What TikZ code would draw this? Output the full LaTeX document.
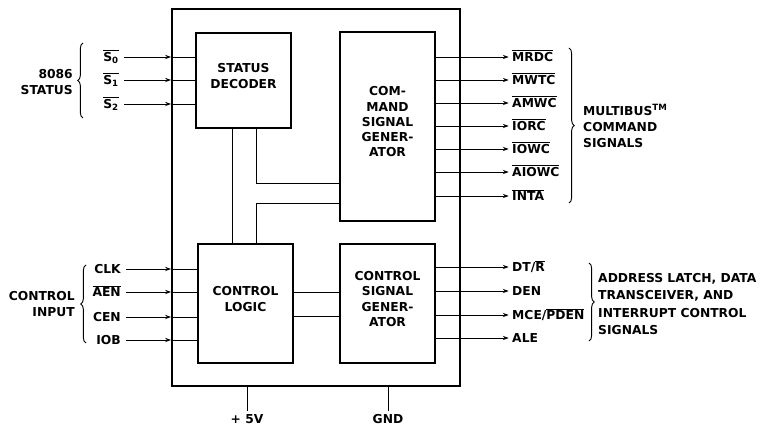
\documentclass[tikz,border=0pt]{standalone}
\usepackage{fontspec}
\setmainfont{DejaVu Sans}
\usepackage{tikz}
\usetikzlibrary{decorations.pathreplacing,fit,calc,arrows.meta}
\tikzset{
  % the chip outline and the blocks inside it
  chip/.style={draw,line width=1.6pt,inner sep=0pt},
  block/.style={draw,line width=1.6pt,inner sep=0pt,align=center,
    font=\fontsize{10.5}{13}\selectfont\bfseries},
  % pin names and group names
  sig/.style={font=\fontsize{10.5}{13}\selectfont\bfseries,inner sep=0pt,
    text height=1.7ex,text depth=.3ex},
  grp/.style={font=\fontsize{10.5}{13.5}\selectfont\bfseries,inner sep=0pt},
  % wires
  wire/.style={line width=.8pt},
  in arrow/.style={wire,-{Stealth[length=5pt,width=3.6pt]},shorten <=1.5mm},
  out arrow/.style={wire,-{Stealth[length=5pt,width=3.6pt]},shorten >=1mm},
  brace/.style={decorate,decoration={brace,amplitude=4.5pt},line width=.8pt},
}
\newcommand{\ovl}[1]{$\overline{\mbox{#1}}$}
\begin{document}
\begin{tikzpicture}[x=0.3mm,y=-0.3mm]
\useasboundingbox (0,0) rectangle (763,425);
% chip and blocks
\node[chip,fit={(172,9) (460,386)}] (chip) {};
\node[block,fit={(196,33) (291,128)}] (dec) {STATUS\\DECODER};
\node[block,fit={(340,32) (435,221)}] (cmd) {COM-\\MAND\\SIGNAL\\GENER-\\ATOR};
\node[block,fit={(198,244) (293,363)}] (ctl) {CONTROL\\LOGIC};
\node[block,fit={(340,244) (435,363)}] (csg) {CONTROL\\SIGNAL\\GENER-\\ATOR};
% links between the blocks
\draw[wire] (dec.south -| 232,0) -- (ctl.north -| 232,0);
\draw[wire] (dec.south -| 256,0) |- (cmd.west |- 0,183);
\draw[wire] (ctl.north -| 256,0) |- (cmd.west |- 0,203);
\draw[wire] (ctl.east |- 0,292) -- (csg.west |- 0,292);
\draw[wire] (ctl.east |- 0,316) -- (csg.west |- 0,316);
% 8086 status inputs
\node[sig,anchor=east] (s0) at (119,57) {\ovl{S\textsubscript{0}}};
\node[sig,anchor=east] (s1) at (119,80) {\ovl{S\textsubscript{1}}};
\node[sig,anchor=east] (s2) at (119,104) {\ovl{S\textsubscript{2}}};
\draw[in arrow] (s0.east) -- (s0.east -| chip.west);
\draw[in arrow] (s1.east) -- (s1.east -| chip.west);
\draw[in arrow] (s2.east) -- (s2.east -| chip.west);
\draw[wire] (s0.east -| chip.west) -- (s0.east -| dec.west);
\draw[wire] (s1.east -| chip.west) -- (s1.east -| dec.west);
\draw[wire] (s2.east -| chip.west) -- (s2.east -| dec.west);
\coordinate (sbot) at (83,118);
\coordinate (stop) at (83,43);
\draw[brace] (sbot) -- (stop);
\node[grp,anchor=east,align=right] (status) at (73,82) {8086\\STATUS};
% control inputs
\node[sig,anchor=east] (clk) at (121,269) {CLK};
\node[sig,anchor=east] (aen) at (121,292) {\ovl{AEN}};
\node[sig,anchor=east] (cen) at (121,317) {CEN};
\node[sig,anchor=east] (iob) at (121,340) {IOB};
\draw[in arrow] (clk.east) -- (clk.east -| chip.west);
\draw[in arrow] (aen.east) -- (aen.east -| chip.west);
\draw[in arrow] (cen.east) -- (cen.east -| chip.west);
\draw[in arrow] (iob.east) -- (iob.east -| chip.west);
\draw[wire] (clk.east -| chip.west) -- (clk.east -| ctl.west);
\draw[wire] (aen.east -| chip.west) -- (aen.east -| ctl.west);
\draw[wire] (cen.east -| chip.west) -- (cen.east -| ctl.west);
\draw[wire] (iob.east -| chip.west) -- (iob.east -| ctl.west);
\coordinate (cbot) at (86,343);
\coordinate (ctop) at (86,265);
\draw[brace] (cbot) -- (ctop);
\node[grp,anchor=east,align=right] (ctlin) at (75,304) {CONTROL\\INPUT};
% multibus command outputs
\node[sig,anchor=west] (mrdc) at (512,57) {\ovl{MRDC}};
\node[sig,anchor=west] (mwtc) at (512,80) {\ovl{MWTC}};
\node[sig,anchor=west] (amwc) at (512,103) {\ovl{AMWC}};
\node[sig,anchor=west] (iorc) at (512,126) {\ovl{IORC}};
\node[sig,anchor=west] (iowc) at (512,149) {\ovl{IOWC}};
\node[sig,anchor=west] (aiowc) at (512,172) {\ovl{AIOWC}};
\node[sig,anchor=west] (inta) at (512,196) {\ovl{INTA}};
\draw[out arrow] (mrdc.west -| cmd.east) -- (mrdc.west);
\draw[out arrow] (mwtc.west -| cmd.east) -- (mwtc.west);
\draw[out arrow] (amwc.west -| cmd.east) -- (amwc.west);
\draw[out arrow] (iorc.west -| cmd.east) -- (iorc.west);
\draw[out arrow] (iowc.west -| cmd.east) -- (iowc.west);
\draw[out arrow] (aiowc.west -| cmd.east) -- (aiowc.west);
\draw[out arrow] (inta.west -| cmd.east) -- (inta.west);
\coordinate (mtop) at (569,48);
\coordinate (mbot) at (569,203);
\draw[brace] (mtop) -- (mbot);
\node[grp,anchor=west,align=left] (multibus) at (583,126) {MULTIBUS\textsuperscript{TM}\\COMMAND\\SIGNALS};
% control signal outputs
\node[sig,anchor=west] (dtr) at (512,267) {DT/\ovl{R}};
\node[sig,anchor=west] (den) at (512,291) {DEN};
\node[sig,anchor=west] (mce) at (512,315) {MCE/\ovl{PDEN}};
\node[sig,anchor=west] (ale) at (512,338) {ALE};
\draw[out arrow] (dtr.west -| csg.east) -- (dtr.west);
\draw[out arrow] (den.west -| csg.east) -- (den.west);
\draw[out arrow] (mce.west -| csg.east) -- (mce.west);
\draw[out arrow] (ale.west -| csg.east) -- (ale.west);
\coordinate (atop) at (589,263);
\coordinate (abot) at (589,341);
\draw[brace] (atop) -- (abot);
\node[grp,anchor=west,align=left,font=\fontsize{10.5}{15}\selectfont\bfseries] (addr) at (598,304) {ADDRESS LATCH, DATA\\TRANSCEIVER, AND\\INTERRUPT CONTROL\\SIGNALS};
% supply pins
\node[sig] (vcc) at (247,419) {+ 5V};
\node[sig] (gnd) at (388,419) {GND};
\draw[wire,shorten >=1pt] (vcc.north |- chip.south) -- (vcc.north);
\draw[wire,shorten >=1pt] (gnd.north |- chip.south) -- (gnd.north);
\end{tikzpicture}
\end{document}
